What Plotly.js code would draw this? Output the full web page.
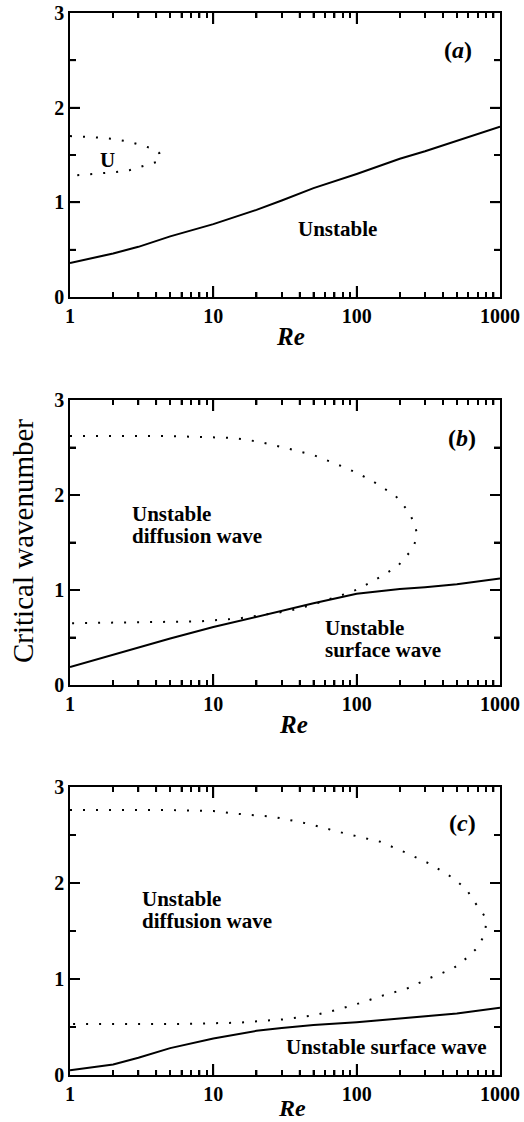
<!DOCTYPE html>
<html>
<head>
<meta charset="utf-8">
<script src="https://cdn.plot.ly/plotly-3.0.1.min.js"></script>
</head>
<body style="margin:0">
<div id="chart" style="width:524px;height:1122px"></div>
<script>
// Reynolds numbers at which the neutral curves are sampled
const reGrid = [1, 2, 3, 5, 10, 20, 30, 50, 100, 200, 300, 500, 1000];

// (a) surface-wave neutral curve and small diffusion-wave loop
const kA_surface = [0.36, 0.46, 0.53, 0.64, 0.77, 0.92, 1.02, 1.15, 1.30, 1.46, 1.54, 1.65, 1.80];
const reA_loop = [1, 1.4, 2, 2.6, 3.2, 3.9, 4.2, 4.3, 4.1, 3.7, 3.1, 2.6, 2.1, 1.5, 1];
const kA_loop  = [1.70, 1.69, 1.67, 1.64, 1.60, 1.56, 1.52, 1.47, 1.43, 1.41, 1.38, 1.34, 1.32, 1.30, 1.28];

// (b)
const kB_surface = [0.19, 0.32, 0.39, 0.49, 0.61, 0.72, 0.78, 0.86, 0.96, 1.01, 1.03, 1.06, 1.12];
const reB_loop = [1, 5, 14, 21, 33, 50, 86, 125, 187, 226, 250, 262, 258, 245, 220, 193, 155, 129, 106, 88, 48, 34, 15, 8, 1];
const kB_loop  = [2.62, 2.62, 2.60, 2.56, 2.49, 2.42, 2.28, 2.16, 1.99, 1.84, 1.72, 1.61, 1.52, 1.43, 1.35, 1.25, 1.16, 1.09, 1.02, 0.97, 0.84, 0.78, 0.70, 0.67, 0.65];

// (c)
const kC_surface = [0.05, 0.11, 0.18, 0.28, 0.38, 0.46, 0.49, 0.52, 0.55, 0.59, 0.61, 0.64, 0.70];
const reC_loop = [1, 5, 10, 15, 26, 45, 81, 146, 217, 324, 472, 587, 650, 748, 790, 800, 790, 766, 690, 587, 472, 324, 224, 154, 106, 73, 50, 31, 15, 5, 1];
const kC_loop  = [2.76, 2.76, 2.75, 2.72, 2.69, 2.62, 2.52, 2.43, 2.32, 2.20, 2.05, 1.93, 1.82, 1.70, 1.64, 1.58, 1.51, 1.44, 1.32, 1.22, 1.11, 1.01, 0.90, 0.83, 0.75, 0.68, 0.62, 0.58, 0.545, 0.53, 0.53];

// Axis ticks
const reTicks = [1, 10, 100, 1000];
const reTickText = ['<b>1</b>', '<b>10</b>', '<b>100</b>', '<b>1000</b>'];
const reMinorTicks = [2, 3, 4, 5, 6, 7, 8, 9, 20, 30, 40, 50, 60, 70, 80, 90, 200, 300, 400, 500, 600, 700, 800, 900];
const kTicks = [0, 1, 2, 3];
const kTickText = ['<b>0</b>', '<b>1</b>', '<b>2</b>', '<b>3</b>'];
const kMinorTicks = [0.5, 1.5, 2.5];

const W = 524, H = 1122;
const px = x => x / W;
const py = y => 1 - y / H;
const SERIF = 'Liberation Serif';

// Pixel extents of the three panels (left/right shared)
const plotLeft = 70, plotRight = 500;
const panels = [
  { suffix: '',  top: 13,  bottom: 297 },
  { suffix: '2', top: 400, bottom: 685 },
  { suffix: '3', top: 787, bottom: 1075 }
];

function solid(xs, ys, n) {
  return { x: xs, y: ys, xaxis: 'x' + n, yaxis: 'y' + n, mode: 'lines',
    line: { color: '#000', width: 2 } };
}
function dotted(xs, ys, n) {
  return { x: xs, y: ys, xaxis: 'x' + n, yaxis: 'y' + n, mode: 'lines',
    line: { color: '#000', width: 2, dash: '2px,11px' } };
}

// Inward tick marks on all four sides of a panel, built from the tick arrays
function frameTicks(p) {
  const xs = [], ys = [];
  const unitPx = (p.bottom - p.top) / 3;              // px per unit of k
  const decadePx = (plotRight - plotLeft) / 3;        // px per decade of Re
  const addX = (vals, lenPx) => {
    const d = lenPx / unitPx;
    vals.forEach(v => { xs.push(v, v, null, v, v, null); ys.push(0, d, null, 3, 3 - d, null); });
  };
  const addY = (vals, lenPx) => {
    const f = Math.pow(10, lenPx / decadePx);
    vals.forEach(k => { xs.push(1, f, null, 1000, 1000 / f, null); ys.push(k, k, null, k, k, null); });
  };
  addX(reTicks.slice(1, -1), 11);
  addX(reMinorTicks, 5);
  addY(kTicks.slice(1, -1), 10);
  addY(kMinorTicks, 6);
  return { x: xs, y: ys, xaxis: 'x' + p.suffix, yaxis: 'y' + p.suffix, mode: 'lines',
    line: { color: '#000', width: 1.5 }, connectgaps: false, hoverinfo: 'skip' };
}

// The same tick marks as layout shapes in axis-domain units
function frameTickShapes(p) {
  const xd = 'x' + p.suffix + ' domain', yd = 'y' + p.suffix + ' domain';
  const hPx = p.bottom - p.top, wPx = plotRight - plotLeft;
  const out = [];
  const seg = (x0, x1, y0, y1) => out.push({ type: 'line', xref: xd, yref: yd, x0: x0, x1: x1, y0: y0, y1: y1,
    layer: 'above', line: { color: '#000', width: 1.5 } });
  const xTick = (v, lenPx) => {
    const f = Math.log10(v) / 3, d = lenPx / hPx;
    seg(f, f, 0, d); seg(f, f, 1, 1 - d);
  };
  const yTick = (k, lenPx) => {
    const f = k / 3, d = lenPx / wPx;
    seg(0, d, f, f); seg(1, 1 - d, f, f);
  };
  reTicks.slice(1, -1).forEach(v => xTick(v, 11));
  reMinorTicks.forEach(v => xTick(v, 5));
  kTicks.slice(1, -1).forEach(k => yTick(k, 10));
  kMinorTicks.forEach(k => yTick(k, 6));
  return out;
}

const traces = panels.map(frameTicks).concat([
  solid(reGrid, kA_surface, ''), dotted(reA_loop, kA_loop, ''),
  solid(reGrid, kB_surface, '2'), dotted(reB_loop, kB_loop, '2'),
  solid(reGrid, kC_surface, '3'), dotted(reC_loop, kC_loop, '3')
]);

function xAxis(anchor) {
  return {
    type: 'log', range: [0, 3], anchor: anchor, domain: [px(plotLeft), px(plotRight)],
    tickmode: 'array', tickvals: reTicks, ticktext: reTickText,
    ticks: 'inside', ticklen: 11, tickwidth: 1.5, tickcolor: '#000',
    showline: true, linecolor: '#000', linewidth: 1.5, mirror: 'ticks',
    showgrid: false, zeroline: false,
    minor: { tickmode: 'array', tickvals: reMinorTicks, ticks: 'inside', ticklen: 5, tickcolor: '#000', showgrid: false }
  };
}
function yAxis(anchor, top, bottom) {
  return {
    range: [0, 3], anchor: anchor, domain: [py(bottom), py(top)],
    tickmode: 'array', tickvals: kTicks, ticktext: kTickText,
    ticks: 'inside', ticklen: 10, tickwidth: 1.5, tickcolor: '#000',
    showline: true, linecolor: '#000', linewidth: 1.5, mirror: 'ticks',
    showgrid: false, zeroline: false,
    minor: { dtick: 0.5, ticks: 'inside', ticklen: 6, tickcolor: '#000', showgrid: false }
  };
}

function label(text, x, y, size, opts) {
  return Object.assign({
    text: text, xref: 'paper', yref: 'paper', x: px(x), y: py(y),
    showarrow: false, xanchor: 'center', yanchor: 'middle',
    font: { size: size }
  }, opts || {});
}
const left = { xanchor: 'left' };

const annotations = [
  // panel (a)
  label('<b>(<i>a</i>)</b>', 458, 50, 24),
  label('<b>U</b>', 107, 160, 21),
  label('<b>Unstable</b>', 337, 229, 21),
  label('<b><i>Re</i></b>', 290, 336, 25),
  // panel (b)
  label('<b>(<i>b</i>)</b>', 462, 438, 24),
  label('<b>Unstable</b>', 130, 514, 21, left),
  label('<b>diffusion wave</b>', 130, 536, 21, left),
  label('<b>Unstable</b>', 323, 628, 21, left),
  label('<b>surface wave</b>', 323, 650, 21, left),
  label('<b><i>Re</i></b>', 293, 724, 25),
  // panel (c)
  label('<b>(<i>c</i>)</b>', 462, 823, 24),
  label('<b>Unstable</b>', 140, 899, 21, left),
  label('<b>diffusion wave</b>', 140, 921, 21, left),
  label('<b>Unstable surface wave</b>', 284, 1047, 21, left),
  label('<b><i>Re</i></b>', 292, 1108, 24),
  // shared y-axis title
  label('Critical wavenumber', 23, 541, 29, { textangle: -90 })
];

const layout = {
  width: W, height: H,
  margin: { l: 0, r: 0, t: 0, b: 0 },
  font: { family: SERIF, size: 20, color: '#000' },
  showlegend: false,
  xaxis: xAxis('y'), yaxis: yAxis('x', panels[0].top, panels[0].bottom),
  xaxis2: xAxis('y2'), yaxis2: yAxis('x2', panels[1].top, panels[1].bottom),
  xaxis3: xAxis('y3'), yaxis3: yAxis('x3', panels[2].top, panels[2].bottom),
  shapes: [].concat(...panels.map(frameTickShapes)),
  annotations: annotations
};

Plotly.newPlot('chart', traces, layout, { displayModeBar: false });
</script>
</body>
</html>
